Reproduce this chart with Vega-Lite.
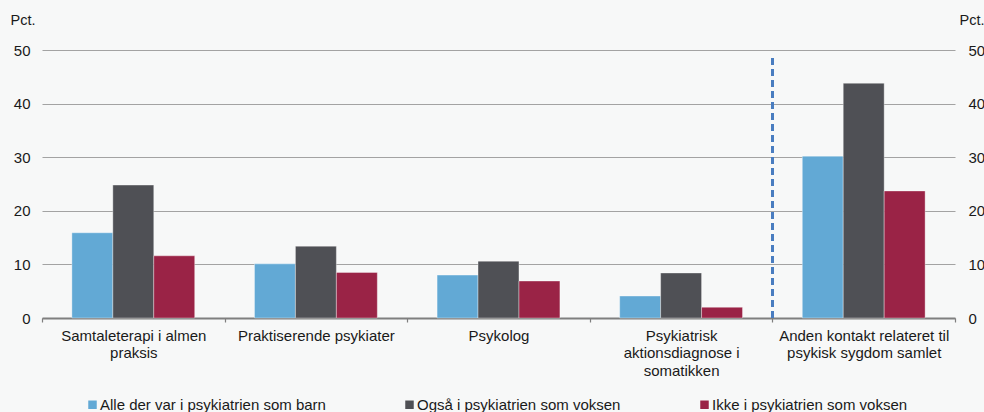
{
  "$schema": "https://vega.github.io/schema/vega-lite/v6.json",
  "width": 913,
  "height": 268,
  "autosize": {"type": "none"},
  "padding": {"left": 42, "top": 50, "right": 29, "bottom": 94},
  "background": "#f7f8f8",
  "config": {"view": {"stroke": null}, "font": "Liberation Sans"},
  "data": {
    "values": [
      {"kategori": "Samtaleterapi i almen|praksis", "gruppe": "Alle der var i psykiatrien som barn", "pct": 15.9},
      {"kategori": "Samtaleterapi i almen|praksis", "gruppe": "Også i psykiatrien som voksen", "pct": 24.8},
      {"kategori": "Samtaleterapi i almen|praksis", "gruppe": "Ikke i psykiatrien som voksen", "pct": 11.6},
      {"kategori": "Praktiserende psykiater", "gruppe": "Alle der var i psykiatrien som barn", "pct": 10.1},
      {"kategori": "Praktiserende psykiater", "gruppe": "Også i psykiatrien som voksen", "pct": 13.4},
      {"kategori": "Praktiserende psykiater", "gruppe": "Ikke i psykiatrien som voksen", "pct": 8.5},
      {"kategori": "Psykolog", "gruppe": "Alle der var i psykiatrien som barn", "pct": 8.0},
      {"kategori": "Psykolog", "gruppe": "Også i psykiatrien som voksen", "pct": 10.6},
      {"kategori": "Psykolog", "gruppe": "Ikke i psykiatrien som voksen", "pct": 6.9},
      {"kategori": "Psykiatrisk|aktionsdiagnose i|somatikken", "gruppe": "Alle der var i psykiatrien som barn", "pct": 4.1},
      {"kategori": "Psykiatrisk|aktionsdiagnose i|somatikken", "gruppe": "Også i psykiatrien som voksen", "pct": 8.4},
      {"kategori": "Psykiatrisk|aktionsdiagnose i|somatikken", "gruppe": "Ikke i psykiatrien som voksen", "pct": 2.0},
      {"kategori": "Anden kontakt relateret til|psykisk sygdom samlet", "gruppe": "Alle der var i psykiatrien som barn", "pct": 30.2},
      {"kategori": "Anden kontakt relateret til|psykisk sygdom samlet", "gruppe": "Også i psykiatrien som voksen", "pct": 43.8},
      {"kategori": "Anden kontakt relateret til|psykisk sygdom samlet", "gruppe": "Ikke i psykiatrien som voksen", "pct": 23.7}
    ]
  },
  "resolve": {"axis": {"y": "independent"}},
  "layer": [
    {
      "mark": {"type": "bar", "stroke": "#ffffff", "strokeWidth": 0.6, "strokeOpacity": 0.6},
      "encoding": {
        "x": {
          "field": "kategori",
          "type": "nominal",
          "scale": {
            "domain": ["Samtaleterapi i almen|praksis", "Praktiserende psykiater", "Psykolog", "Psykiatrisk|aktionsdiagnose i|somatikken", "Anden kontakt relateret til|psykisk sygdom samlet"],
            "paddingInner": 0,
            "paddingOuter": 0
          },
          "axis": {
            "title": null,
            "labelAngle": 0,
            "labelExpr": "split(datum.label, '|')",
            "labelFontSize": 15,
            "labelColor": "#1a1a1a",
            "labelLineHeight": 17.5,
            "labelPadding": 6,
            "labelBaseline": "top",
            "tickBand": "extent",
            "tickSize": 4,
            "tickColor": "#7f7f7f",
            "tickWidth": 1.2,
            "domainColor": "#7f7f7f",
            "domainWidth": 1.8,
            "grid": false,
            "labelLimit": 300
          }
        },
        "xOffset": {
          "field": "gruppe",
          "type": "nominal",
          "scale": {
            "domain": ["Alle der var i psykiatrien som barn", "Også i psykiatrien som voksen", "Ikke i psykiatrien som voksen"],
            "paddingInner": 0,
            "paddingOuter": 0.73
          }
        },
        "y": {
          "field": "pct",
          "type": "quantitative",
          "scale": {"domain": [0, 50]},
          "axis": {
            "orient": "left",
            "values": [0, 10, 20, 30, 40, 50],
            "grid": true,
            "gridColor": "#a3a3a3",
            "gridWidth": 1,
            "domain": false,
            "ticks": false,
            "labelPadding": 12,
            "labelFontSize": 15,
            "labelColor": "#1a1a1a",
            "title": "Pct.",
            "titleAngle": 0,
            "titleAlign": "left",
            "titleBaseline": "middle",
            "titleX": -32,
            "titleY": -30,
            "titleFontSize": 14.5,
            "titleFontWeight": "normal",
            "titleColor": "#1a1a1a"
          }
        },
        "color": {
          "field": "gruppe",
          "type": "nominal",
          "scale": {
            "domain": ["Alle der var i psykiatrien som barn", "Også i psykiatrien som voksen", "Ikke i psykiatrien som voksen"],
            "range": ["#62a9d5", "#4f5055", "#9a2346"]
          },
          "legend": {
            "orient": "none",
            "legendX": 43,
            "legendY": 347,
            "direction": "horizontal",
            "title": null,
            "symbolType": "square",
            "symbolSize": 72,
            "symbolStrokeWidth": 0,
            "symbolOffset": 0,
            "labelOffset": 0,
            "labelFontSize": 15,
            "labelColor": "#1a1a1a",
            "labelLimit": 400,
            "columnPadding": 76
          }
        }
      }
    },
    {
      "mark": {"type": "rule", "color": "#4a7dc0", "strokeWidth": 2, "strokeDash": [7, 4]},
      "encoding": {
        "x": {"datum": "Anden kontakt relateret til|psykisk sygdom samlet", "type": "nominal", "bandPosition": 0},
        "y": {
          "datum": 0,
          "type": "quantitative",
          "axis": {
            "orient": "right",
            "values": [0, 10, 20, 30, 40, 50],
            "grid": false,
            "domain": false,
            "ticks": false,
            "labelPadding": 13,
            "labelFontSize": 15,
            "labelColor": "#1a1a1a",
            "title": "Pct.",
            "titleAngle": 0,
            "titleAlign": "left",
            "titleBaseline": "middle",
            "titleX": 4,
            "titleY": -30,
            "titleFontSize": 14.5,
            "titleFontWeight": "normal",
            "titleColor": "#1a1a1a"
          }
        },
        "y2": {"datum": 48.5}
      }
    }
  ]
}
